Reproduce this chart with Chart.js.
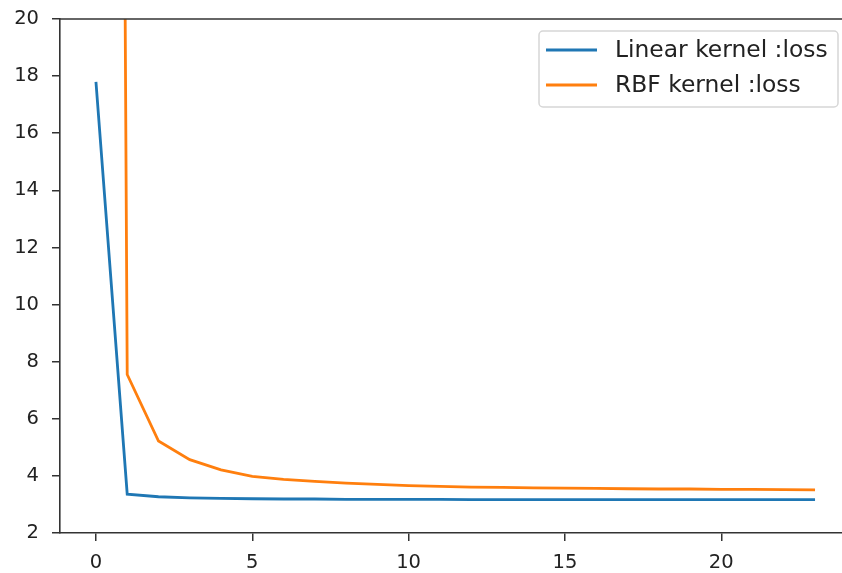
<!DOCTYPE html>
<html>
<head>
<meta charset="utf-8">
<script src="https://cdn.jsdelivr.net/npm/chart.js@4.4.0/dist/chart.umd.min.js"></script>
<style>
  html, body { margin: 0; padding: 0; overflow: hidden; background: #fff; }
  #wrap { width: 842px; height: 573px; overflow: hidden; }
  #lossChart { display: block; }
</style>
</head>
<body>
<div id="wrap"><canvas id="lossChart" width="851" height="573"></canvas></div>
<script>
const epochs = [0, 1, 2, 3, 4, 5, 6, 7, 8, 9, 10, 11, 12, 13, 14, 15, 16, 17, 18, 19, 20, 21, 22, 23];
const linearLoss = [17.8, 3.36, 3.27, 3.23, 3.21, 3.2, 3.19, 3.19, 3.18, 3.18, 3.18, 3.18,
                    3.17, 3.17, 3.17, 3.17, 3.17, 3.17, 3.17, 3.17, 3.17, 3.17, 3.17, 3.17];
const rbfLoss = [200, 7.55, 5.22, 4.57, 4.21, 3.98, 3.88, 3.81, 3.75, 3.7, 3.66, 3.63,
                 3.61, 3.6, 3.58, 3.57, 3.56, 3.55, 3.54, 3.54, 3.53, 3.53, 3.52, 3.51];
const seriesLabels = ['Linear kernel :loss', 'RBF kernel :loss'];
const seriesColors = ['#1f77b4', '#ff7f0e'];
const xTicks = [0, 5, 10, 15, 20];
const yTicks = [2, 4, 6, 8, 10, 12, 14, 16, 18, 20];

const FONT = 'DejaVu Sans';

// top spine; the right one falls just outside the picture
const frame = {
    id: 'frame',
    afterDatasetsDraw(chart) {
        const { ctx, chartArea: a } = chart;
        ctx.save();
        ctx.strokeStyle = '#333';
        ctx.lineWidth = 1.6;
        ctx.beginPath();
        ctx.moveTo(a.left, a.top);
        ctx.lineTo(a.right, a.top);
        ctx.stroke();
        ctx.restore();
    }
};

// legend box in the upper right corner, like matplotlib's
const legendBox = {
    id: 'legendBox',
    afterDraw(chart) {
        const { ctx, chartArea: a } = chart;
        const w = 299, h = 76;
        const x = a.right - 13 - w, y = a.top + 12;
        ctx.save();
        ctx.beginPath();
        ctx.roundRect(x, y, w, h, 4);
        ctx.fillStyle = 'rgba(255,255,255,0.8)';
        ctx.fill();
        ctx.strokeStyle = '#d6d6d6';
        ctx.lineWidth = 1.5;
        ctx.stroke();
        ctx.font = '23.4px "' + FONT + '"';
        ctx.textBaseline = 'middle';
        ctx.fillStyle = '#222';
        chart.data.datasets.forEach((ds, i) => {
            const ly = y + 19 + i * 35;
            ctx.strokeStyle = ds.borderColor;
            ctx.lineWidth = 2.8;
            ctx.beginPath();
            ctx.moveTo(x + 7, ly);
            ctx.lineTo(x + 58, ly);
            ctx.stroke();
            ctx.fillText(ds.label, x + 76, ly + 1);
        });
        ctx.restore();
    }
};

const axisStyle = {
    grid: { drawOnChartArea: false, drawTicks: true, tickLength: 8, color: '#333', lineWidth: 1.5 },
    border: { color: '#333', width: 1.6 },
};

new Chart(document.getElementById('lossChart'), {
    type: 'line',
    data: {
        datasets: [
            {
                label: seriesLabels[0],
                data: epochs.map((e, i) => ({ x: e, y: linearLoss[i] })),
                borderColor: seriesColors[0],
                borderWidth: 2.8,
                pointRadius: 0,
                tension: 0,
                clip: 0
            },
            {
                label: seriesLabels[1],
                data: epochs.map((e, i) => ({ x: e, y: rbfLoss[i] })),
                borderColor: seriesColors[1],
                borderWidth: 2.8,
                pointRadius: 0,
                tension: 0,
                clip: 0
            }
        ]
    },
    options: {
        responsive: false,
        animation: false,
        layout: { padding: { top: 19, left: 0, right: 0, bottom: 0 } },
        plugins: { legend: { display: false }, tooltip: { enabled: false } },
        scales: {
            x: {
                type: 'linear',
                min: -1.15,
                max: 24.15,
                afterBuildTicks: s => { s.ticks = xTicks.map(v => ({ value: v })); },
                afterFit: s => { s.height = 40; s.paddingLeft = 0; s.paddingRight = 0; },
                ...axisStyle,
                ticks: { padding: 10, color: '#222', maxRotation: 0, font: { family: FONT, size: 19.5 } }
            },
            y: {
                type: 'linear',
                min: 2,
                max: 20,
                afterBuildTicks: s => { s.ticks = yTicks.map(v => ({ value: v })); },
                afterFit: s => { s.width = 60; s.paddingTop = 0; s.paddingBottom = 0; },
                ...axisStyle,
                ticks: { padding: 13, color: '#222', font: { family: FONT, size: 19.5 } }
            }
        }
    },
    plugins: [frame, legendBox]
});
</script>
</body>
</html>
